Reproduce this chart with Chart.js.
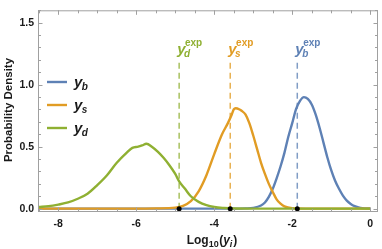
<!DOCTYPE html>
<html>
<head>
<meta charset="utf-8">
<script src="https://cdn.jsdelivr.net/npm/chart.js@4.4.1/dist/chart.umd.min.js"></script>
<style>
  html, body { margin: 0; padding: 0; background: #ffffff; }
  #wrap { width: 382px; height: 249px; position: relative; }
</style>
</head>
<body>
<div id="wrap"><canvas id="c" width="382" height="249"></canvas></div>
<script>
// ---------- data ----------
const xTicks = [-8, -6, -4, -2, 0];
const yTicks = [0, 0.5, 1.0, 1.5];

const xB = [-8.5, -3.5, -3.2, -3.0, -2.8, -2.7, -2.6, -2.5, -2.4, -2.3, -2.2, -2.1, -2.0, -1.9, -1.8, -1.7, -1.6, -1.5, -1.4, -1.3, -1.2, -1.1, -1.0, -0.9, -0.8, -0.7, -0.6, -0.5, -0.4, -0.3, -0.2, 0];
const yB = [0, 0, 0.002, 0.006, 0.025, 0.05, 0.095, 0.16, 0.245, 0.34, 0.45, 0.58, 0.69, 0.805, 0.87, 0.9, 0.885, 0.84, 0.76, 0.655, 0.535, 0.415, 0.31, 0.225, 0.16, 0.105, 0.065, 0.038, 0.02, 0.01, 0.004, 0.001];

const xS = [-8.5, -6.0, -5.5, -5.0, -4.8, -4.6, -4.4, -4.2, -4.0, -3.8, -3.65, -3.55, -3.5, -3.45, -3.35, -3.3, -3.2, -3.1, -3.0, -2.9, -2.8, -2.7, -2.6, -2.5, -2.4, -2.3, -2.2, -2.0, -1.5, 0];
const yS = [0, 0, 0.002, 0.008, 0.022, 0.06, 0.14, 0.27, 0.44, 0.6, 0.69, 0.76, 0.80, 0.81, 0.80, 0.79, 0.76, 0.69, 0.59, 0.48, 0.37, 0.28, 0.2, 0.135, 0.075, 0.04, 0.018, 0.004, 0, 0];

const xD = [-8.5, -8.25, -8.0, -7.75, -7.5, -7.25, -7.0, -6.75, -6.5, -6.25, -6.1, -5.95, -5.85, -5.74, -5.6, -5.45, -5.3, -5.15, -5.0, -4.9, -4.75, -4.6, -4.4, -4.2, -4.0, -3.75, -3.5, -3.0, 0];
const yD = [0.013, 0.02, 0.033, 0.05, 0.08, 0.12, 0.19, 0.27, 0.37, 0.45, 0.49, 0.50, 0.51, 0.523, 0.50, 0.46, 0.41, 0.35, 0.28, 0.22, 0.16, 0.10, 0.055, 0.028, 0.013, 0.005, 0.001, 0, 0];

const expNames = ['b', 's', 'd'];
const expX = [-1.87, -3.59, -4.9];
const expTop = 1.2;

const colB = '#5E81B5', colS = '#E19C24', colD = '#8FB032';
const colsExp = [colB, colS, colD];
const dashCols = ['rgba(94,129,181,0.78)', 'rgba(225,156,36,0.78)', 'rgba(143,176,50,0.78)'];

const pts = (xs, ys) => xs.map((x, i) => ({ x: x, y: ys[i] }));

const curve = (xs, ys, col, ord) => ({
  data: pts(xs, ys), borderColor: col, borderWidth: 2.4, pointRadius: 0,
  cubicInterpolationMode: 'monotone', fill: false, order: ord
});

const dashSets = expX.map((x, i) => ({
  data: [{ x: x, y: 0 }, { x: x, y: expTop }], borderColor: dashCols[i], borderWidth: 1.5,
  borderDash: [6, 4], pointRadius: 0, fill: false, order: 10
}));

const dots = {
  data: expX.map(x => ({ x: x, y: 0 })), showLine: false, pointRadius: 2.5,
  pointBackgroundColor: '#000', pointBorderColor: '#000', pointBorderWidth: 0, order: 0
};

const FONT = '"Liberation Sans", Arial, sans-serif';
const TXT = '#1a1a1a';

function rich(ctx, parts, x, y) {
  let cx = x;
  parts.forEach(p => {
    ctx.font = p.f;
    ctx.fillStyle = p.c || TXT;
    ctx.fillText(p.t, cx + (p.dx || 0), y + (p.dy || 0));
    cx += ctx.measureText(p.t).width + (p.dx || 0) + (p.adv || 0);
  });
}

const deco = {
  id: 'deco',
  afterDraw(chart) {
    const ctx = chart.ctx, a = chart.chartArea;
    const xs = chart.scales.x, ys = chart.scales.y;
    ctx.save();
    // frame
    ctx.strokeStyle = '#a0a0a0';
    ctx.lineWidth = 1;
    ctx.strokeRect(a.left + 0.5, a.top + 0.5, a.right - a.left - 1, a.bottom - a.top - 1);
    // ticks
    ctx.beginPath();
    for (let v = -8.5; v <= 0.2001; v += 0.5) {
      const px = Math.round(xs.getPixelForValue(v)) + 0.5;
      const major = Math.abs(v - Math.round(v / 2) * 2) < 1e-6;
      const L = major ? 4.5 : 3;
      ctx.moveTo(px, a.bottom); ctx.lineTo(px, a.bottom - L);
      ctx.moveTo(px, a.top); ctx.lineTo(px, a.top + L);
    }
    for (let k = 0; k <= 16; k++) {
      const v = k / 10;
      const py = Math.round(ys.getPixelForValue(v)) + 0.5;
      const major = k % 5 === 0;
      const L = major ? 4.5 : 3;
      ctx.moveTo(a.left, py); ctx.lineTo(a.left + L, py);
      ctx.moveTo(a.right, py); ctx.lineTo(a.right - L, py);
    }
    ctx.stroke();

    // legend
    const legY = [82, 105, 128];
    const legN = ['b', 's', 'd'];
    const legC = [colB, colS, colD];
    ctx.textBaseline = 'alphabetic';
    legY.forEach((ly, i) => {
      ctx.strokeStyle = legC[i];
      ctx.lineWidth = 2.4;
      ctx.beginPath();
      ctx.moveTo(a.left + 9, ly); ctx.lineTo(a.left + 29, ly);
      ctx.stroke();
      rich(ctx, [
        { t: 'y', f: 'italic bold 15px ' + FONT },
        { t: legN[i], f: 'italic bold 10px ' + FONT, dy: 3, dx: -0.5 }
      ], a.left + 36, ly + 5);
    });

    // exp labels
    expX.forEach((x, i) => {
      const px = xs.getPixelForValue(x) - 2;
      const py = ys.getPixelForValue(expTop) - 6;
      ctx.font = 'italic bold 15px ' + FONT;
      ctx.fillStyle = colsExp[i];
      ctx.fillText('y', px, py);
      const w = ctx.measureText('y').width;
      ctx.font = 'bold 10px ' + FONT;
      ctx.fillText('exp', px + w - 0.5, py - 8);
      ctx.font = 'italic bold 10px ' + FONT;
      ctx.fillText(expNames[i], px + w - 1.5, py + 3);
    });

    // x title
    ctx.fillStyle = TXT;
    const parts = [
      { t: 'Log', f: 'bold 12px ' + FONT },
      { t: '10', f: 'bold 9px ' + FONT, dy: 3 },
      { t: '(', f: 'bold 12px ' + FONT, dx: 0.5 },
      { t: 'y', f: 'italic bold 12px ' + FONT },
      { t: 'i', f: 'italic bold 9px ' + FONT, dy: 3 },
      { t: ')', f: 'bold 12px ' + FONT, dx: 1 }
    ];
    let tw = 0;
    parts.forEach(p => { ctx.font = p.f; tw += ctx.measureText(p.t).width + (p.dx || 0); });
    rich(ctx, parts, (a.left + a.right) / 2 + 4 - tw / 2, 244);

    // y title
    ctx.save();
    ctx.translate(12, 110);
    ctx.rotate(-Math.PI / 2);
    ctx.font = 'bold 11.5px ' + FONT;
    ctx.textAlign = 'center';
    ctx.fillStyle = TXT;
    ctx.fillText('Probability Density', 0, 0);
    ctx.restore();

    ctx.restore();
  }
};

new Chart(document.getElementById('c'), {
  type: 'line',
  data: {
    datasets: [
      dots,
      curve(xD, yD, colD, 1),
      curve(xS, yS, colS, 2),
      curve(xB, yB, colB, 3),
      ...dashSets
    ]
  },
  options: {
    responsive: false,
    animation: false,
    events: [],
    layout: { padding: { left: 0, right: 2, top: 0, bottom: 0 } },
    plugins: { legend: { display: false }, tooltip: { enabled: false }, title: { display: false } },
    scales: {
      x: {
        type: 'linear', min: -8.52, max: 0.2,
        grid: { display: false, drawTicks: false },
        border: { display: false },
        afterBuildTicks: s => { s.ticks = xTicks.map(v => ({ value: v })); },
        afterFit: s => { s.height = 37; },
        ticks: { padding: 6, color: TXT, font: { family: FONT, size: 10.5, weight: 'bold' }, maxRotation: 0,
                 callback: v => String(v) }
      },
      y: {
        type: 'linear', min: -0.027, max: 1.6,
        grid: { display: false, drawTicks: false },
        border: { display: false },
        afterBuildTicks: s => { s.ticks = yTicks.map(v => ({ value: v })); },
        afterFit: s => { s.width = 38; },
        ticks: { padding: 4, color: TXT, font: { family: FONT, size: 10.5, weight: 'bold' },
                 callback: v => Number(v).toFixed(1) }
      }
    }
  },
  plugins: [deco]
});
</script>
</body>
</html>
